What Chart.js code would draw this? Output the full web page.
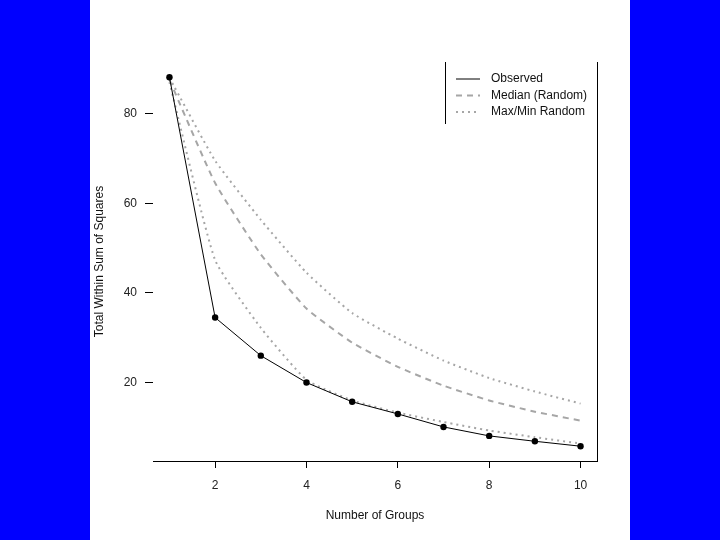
<!DOCTYPE html>
<html>
<head>
<meta charset="utf-8">
<script src="https://cdn.jsdelivr.net/npm/chart.js@4.4.0/dist/chart.umd.min.js"></script>
<style>
    html, body { margin: 0; padding: 0; background: #0000ff; }
    body { width: 720px; height: 540px; position: relative; overflow: hidden; }
    #panel { position: absolute; left: 90px; top: 0; width: 540px; height: 540px; background: #fff; }
</style>
</head>
<body>
<div id="panel"><canvas id="wssChart" width="540" height="540"></canvas></div>
<script>
// Values
const groups = [1, 2, 3, 4, 5, 6, 7, 8, 9, 10];
const observed = [88.1, 34.5, 26.0, 20.0, 15.7, 13.0, 10.1, 8.1, 6.9, 5.8];
const medianRandom = [87.5, 64.5, 48.6, 36.5, 28.9, 23.5, 19.3, 16.0, 13.5, 11.5];
const maxRandom = [88.0, 69.5, 56.3, 44.5, 35.5, 29.8, 24.9, 21.0, 18.0, 15.3];
const minRandom = [87.0, 47.3, 32.2, 20.6, 16.0, 13.3, 11.2, 9.3, 7.8, 6.4];
const xTicks = [2, 4, 6, 8, 10];
const yTicks = [20, 40, 60, 80];
const legendLabels = ['Observed', 'Median (Random)', 'Max/Min Random'];

const FONT = '"Liberation Sans", Arial, sans-serif';
const GREY = '#a6a6a6';

const toPoints = values => values.map((v, i) => ({ x: groups[i], y: v }));

// Plot frame (right side) and the boxed legend, R style
const frameAndLegend = {
    id: 'frameAndLegend',
    afterDraw(chart) {
        const { ctx, chartArea: area } = chart;
        ctx.save();
        ctx.strokeStyle = '#000';
        ctx.lineWidth = 1;
        ctx.setLineDash([]);
        ctx.beginPath();
        ctx.moveTo(area.right + 0.5, area.top);
        ctx.lineTo(area.right + 0.5, area.bottom);
        ctx.stroke();

        const left = area.right - 152;
        ctx.beginPath();
        ctx.moveTo(left + 0.5, area.top);
        ctx.lineTo(left + 0.5, area.top + 62);
        ctx.stroke();

        const styles = [
            { color: '#000', width: 1, dash: [] },
            { color: GREY, width: 2, dash: [6, 5] },
            { color: GREY, width: 2, dash: [2, 4] }
        ];
        ctx.font = '12px ' + FONT;
        ctx.textBaseline = 'middle';
        ctx.fillStyle = '#111';
        legendLabels.forEach((label, i) => {
            const y = area.top + 17 + i * 16.5;
            ctx.strokeStyle = styles[i].color;
            ctx.lineWidth = styles[i].width;
            ctx.setLineDash(styles[i].dash);
            ctx.beginPath();
            ctx.moveTo(left + 11, y);
            ctx.lineTo(left + 35, y);
            ctx.stroke();
            ctx.fillText(label, left + 46, y);
        });
        ctx.restore();
    }
};

new Chart(document.getElementById('wssChart'), {
    type: 'line',
    data: {
        datasets: [
            {
                label: legendLabels[0],
                data: toPoints(observed),
                borderColor: '#000',
                backgroundColor: '#000',
                borderWidth: 1,
                pointRadius: 3.2,
                pointBorderWidth: 0,
                tension: 0
            },
            {
                label: legendLabels[1],
                data: toPoints(medianRandom),
                borderColor: GREY,
                borderWidth: 2,
                borderDash: [6, 5],
                pointRadius: 0,
                tension: 0.15
            },
            {
                label: legendLabels[2],
                data: toPoints(maxRandom),
                borderColor: GREY,
                borderWidth: 2,
                borderDash: [2, 4],
                pointRadius: 0,
                tension: 0.15
            },
            {
                label: legendLabels[2],
                data: toPoints(minRandom),
                borderColor: GREY,
                borderWidth: 2,
                borderDash: [2, 4],
                pointRadius: 0,
                tension: 0.15
            }
        ]
    },
    options: {
        responsive: false,
        animation: false,
        devicePixelRatio: 1,
        layout: { padding: { top: 62, right: 33, left: 0, bottom: 0 } },
        plugins: {
            legend: { display: false },
            tooltip: { enabled: false }
        },
        scales: {
            x: {
                type: 'linear',
                min: 0.64,
                max: 10.36,
                afterFit: scale => { scale.height = 79; },
                afterBuildTicks: scale => { scale.ticks = xTicks.map(v => ({ value: v })); },
                border: { display: true, color: '#000', width: 1 },
                grid: { display: true, drawOnChartArea: false, tickLength: 7, color: '#000' },
                ticks: { color: '#222', font: { family: FONT, size: 12 }, padding: 10, maxRotation: 0 },
                title: {
                    display: true,
                    text: 'Number of Groups',
                    color: '#111',
                    font: { family: FONT, size: 12 },
                    padding: { top: 0, bottom: 17 }
                }
            },
            y: {
                type: 'linear',
                min: 2.5,
                max: 91.5,
                afterFit: scale => { scale.width = 63; },
                afterBuildTicks: scale => { scale.ticks = yTicks.map(v => ({ value: v })); },
                border: { display: false },
                grid: { display: true, drawOnChartArea: false, tickLength: 8, color: '#000' },
                ticks: { color: '#222', font: { family: FONT, size: 12 }, padding: 8 },
                title: {
                    display: true,
                    text: 'Total Within Sum of Squares',
                    color: '#111',
                    font: { family: FONT, size: 12 },
                    padding: { top: 2, bottom: 0 }
                }
            }
        }
    },
    plugins: [frameAndLegend]
});
</script>
</body>
</html>
